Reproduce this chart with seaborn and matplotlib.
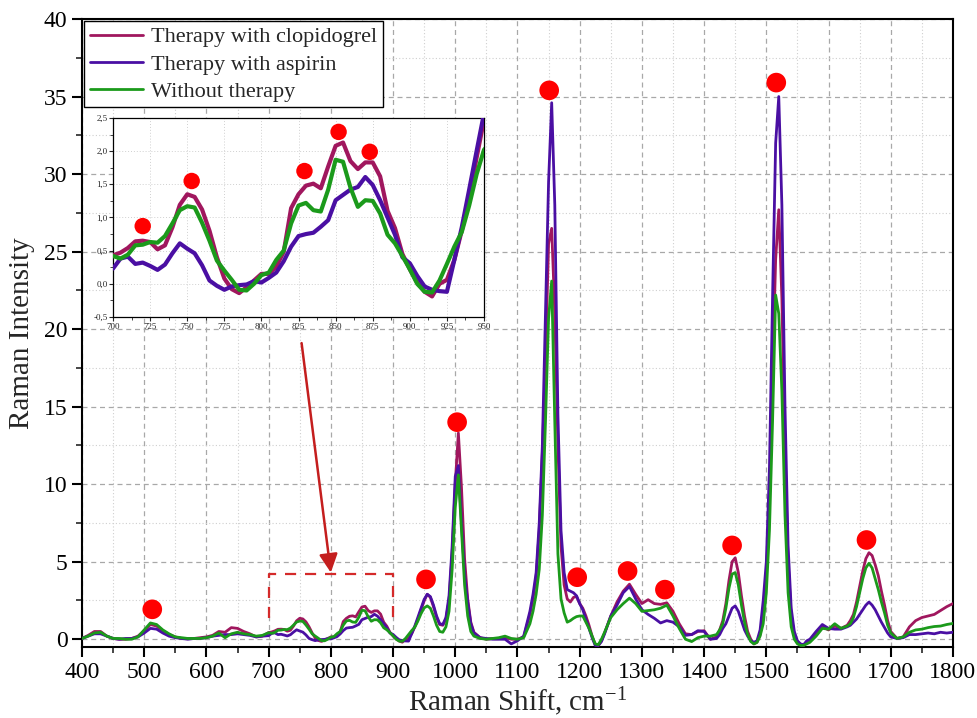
import numpy as np
import pandas as pd
import matplotlib
matplotlib.use("Agg")
from matplotlib import pyplot as plt
from matplotlib.ticker import MultipleLocator, FuncFormatter
import seaborn as sns

# sampling grid of the spectra (cm-1)
raman_shift = (list(range(400, 700, 10)) + list(range(700, 1035, 5)) +
               list(range(1040, 1125, 10)) + list(range(1125, 1245, 5)) +
               list(range(1250, 1425, 10)) + list(range(1425, 1570, 5)) +
               list(range(1570, 1640, 10)) + list(range(1635, 1705, 5)) +
               list(range(1710, 1810, 10)))

clopidogrel = [
    # 400-690
    0.05, 0.25, 0.5, 0.5, 0.2, 0.05, 0.0, 0.0, 0.05, 0.2, 0.55, 0.95, 0.85, 0.55, 0.3,
    0.15, 0.05, 0.05, 0.05, 0.1, 0.15, 0.25, 0.5, 0.45, 0.75, 0.7, 0.5, 0.35, 0.15, 0.2,
    # 700-1030
    0.43, 0.47, 0.54, 0.64, 0.65, 0.63, 0.52, 0.58, 0.85, 1.19, 1.35, 1.31, 1.12, 0.80,
    0.40, 0.08, -0.08, -0.14, -0.05, 0.05, 0.15, 0.15, 0.26, 0.48, 1.14, 1.35, 1.48, 1.51,
    1.44, 1.77, 2.08, 2.13, 1.85, 1.73, 1.83, 1.83, 1.62, 1.10, 0.84, 0.45, 0.22, 0.02,
    -0.12, -0.19, 0.00, 0.06, 0.36, 0.80, 1.28, 1.90, 2.47, 2.9, 2.7, 2.1, 1.4, 0.95, 0.9,
    1.3, 2.5, 5.5, 10.0, 13.3, 9.8, 5.2, 2.6, 1.1, 0.45,
    # 1040-1120
    0.1, 0.0, 0.05, 0.05, 0.1, 0.0, 0.0, 0.15, 1.6,
    # 1125-1240
    2.6, 4.0, 7.0, 12.0, 18.0, 25.5, 26.5, 21.0, 12.5, 6.0, 3.5, 2.6, 2.4, 2.7, 2.75, 2.3,
    2.0, 1.5, 0.9, 0.2, -0.35, -0.4, -0.1, 0.4,
    # 1250-1420
    1.5, 2.4, 3.1, 3.55, 2.9, 2.3, 2.55, 2.3, 2.25, 2.35, 1.8, 1.0, 0.35, 0.3, 0.5, 0.55,
    0.0, 0.15,
    # 1425-1565
    0.6, 1.2, 2.3, 3.8, 5.0, 5.25, 4.3, 2.8, 1.5, 0.5, 0.0, -0.3, -0.2, 0.3, 1.5, 4.0, 9.0,
    17.0, 24.5, 27.7, 22.0, 12.0, 5.0, 1.5, 0.3, -0.2, -0.35, -0.4, -0.2,
    # 1570-1630
    -0.1, 0.3, 0.8, 0.6, 0.85, 0.7, 0.9,
    # 1635-1700
    1.2, 1.6, 2.4, 3.4, 4.4, 5.2, 5.58, 5.4, 4.8, 4.1, 3.1, 2.2, 1.2, 0.5,
    # 1710-1800
    0.05, 0.15, 0.8, 1.2, 1.4, 1.5, 1.6, 1.85, 2.1, 2.3,
]

aspirin = [
    # 400-690
    0.05, 0.2, 0.35, 0.35, 0.2, 0.05, 0.0, 0.05, 0.05, 0.15, 0.4, 0.7, 0.65, 0.4, 0.2,
    0.1, 0.05, 0.0, 0.05, 0.05, 0.1, 0.2, 0.25, 0.3, 0.3, 0.35, 0.3, 0.25, 0.15, 0.2,
    # 700-1030
    0.23, 0.38, 0.41, 0.30, 0.32, 0.27, 0.21, 0.29, 0.46, 0.61, 0.53, 0.46, 0.28, 0.05,
    -0.03, -0.09, -0.04, -0.02, -0.01, 0.04, 0.02, 0.09, 0.17, 0.34, 0.56, 0.72, 0.75, 0.77,
    0.86, 0.96, 1.26, 1.34, 1.42, 1.46, 1.61, 1.49, 1.26, 1.00, 0.74, 0.40, 0.31, 0.12,
    -0.04, -0.09, -0.11, -0.12, 0.36, 0.85, 1.42, 2.00, 2.57, 2.9, 2.75, 2.2, 1.5, 1.0, 0.95,
    1.4, 2.8, 6.0, 10.5, 11.2, 7.5, 4.2, 2.4, 1.0, 0.4,
    # 1040-1120
    0.1, 0.05, 0.0, 0.0, 0.0, -0.3, -0.1, 0.2, 1.8,
    # 1125-1240
    2.9, 4.3, 7.5, 12.5, 21.0, 29.5, 34.6, 28.0, 14.5, 7.0, 4.3, 3.2, 3.1, 3.0, 2.8, 2.3,
    1.9, 1.3, 0.7, 0.1, -0.4, -0.4, -0.15, 0.35,
    # 1250-1420
    1.5, 2.2, 3.0, 3.4, 2.6, 1.9, 1.6, 1.35, 1.05, 1.2, 1.1, 0.8, 0.25, 0.3, 0.55, 0.5,
    0.0, 0.05,
    # 1425-1565
    0.3, 0.7, 1.0, 1.5, 2.0, 2.15, 1.8, 1.2, 0.6, 0.2, -0.1, -0.2, -0.1, 0.6, 2.5, 5.0, 11.0,
    22.0, 32.0, 35.0, 28.0, 15.0, 6.0, 2.0, 0.5, -0.1, -0.3, -0.35, -0.1,
    # 1570-1630
    0.0, 0.5, 0.95, 0.7, 0.65, 0.65, 0.8,
    # 1635-1700
    0.9, 1.1, 1.3, 1.6, 1.9, 2.2, 2.4, 2.2, 1.9, 1.5, 1.1, 0.75, 0.4, 0.15,
    # 1710-1800
    0.05, 0.1, 0.3, 0.3, 0.35, 0.4, 0.35, 0.45, 0.4, 0.45,
]

without_therapy = [
    # 400-690
    0.05, 0.2, 0.4, 0.45, 0.2, 0.05, 0.05, 0.0, 0.0, 0.15, 0.6, 1.05, 0.95, 0.6, 0.35,
    0.15, 0.1, 0.05, 0.05, 0.05, 0.1, 0.2, 0.4, 0.1, 0.35, 0.45, 0.35, 0.3, 0.2, 0.25,
    # 700-1030
    0.42, 0.38, 0.44, 0.58, 0.59, 0.63, 0.62, 0.72, 0.91, 1.11, 1.17, 1.15, 0.92, 0.65,
    0.35, 0.20, 0.06, -0.09, -0.10, 0.00, 0.13, 0.17, 0.36, 0.50, 0.91, 1.18, 1.22, 1.11,
    1.09, 1.42, 1.87, 1.84, 1.45, 1.16, 1.26, 1.25, 1.06, 0.74, 0.61, 0.42, 0.22, 0.00,
    -0.12, -0.13, 0.05, 0.30, 0.56, 0.78, 1.18, 1.65, 2.02, 2.15, 2.0, 1.5, 0.9, 0.5, 0.45,
    0.8, 1.8, 4.5, 8.5, 10.6, 7.0, 3.5, 1.5, 0.5, 0.2,
    # 1040-1120
    0.05, 0.0, 0.05, 0.1, 0.2, 0.05, 0.0, 0.1, 1.0,
    # 1125-1240
    1.8, 2.9, 4.5, 8.0, 14.0, 20.7, 23.1, 14.0, 5.5, 2.6, 1.7, 1.1, 1.2, 1.35, 1.46, 1.5,
    1.5, 1.1, 0.7, 0.2, -0.3, -0.35, 0.0, 0.45,
    # 1250-1420
    1.4, 1.9, 2.3, 2.65, 2.3, 1.8, 1.85, 1.9, 2.0, 2.2, 1.5, 0.7, 0.0, -0.15, 0.1, 0.2,
    0.2, 0.3,
    # 1425-1565
    0.6, 1.0, 2.0, 3.3, 4.2, 4.3, 3.5, 2.2, 1.1, 0.3, -0.15, -0.3, -0.2, 0.2, 1.0, 3.0, 7.0,
    14.0, 22.2, 21.0, 16.0, 8.0, 3.0, 0.8, 0.0, -0.3, -0.4, -0.4, -0.3,
    # 1570-1630
    -0.2, 0.2, 0.7, 0.65, 1.0, 0.7, 0.85,
    # 1635-1700
    1.0, 1.4, 2.1, 3.0, 3.9, 4.6, 4.9, 4.6, 3.9, 3.2, 2.4, 1.7, 0.9, 0.4,
    # 1710-1800
    0.05, 0.15, 0.45, 0.6, 0.65, 0.75, 0.82, 0.85, 0.95, 1.02,
]

series_names = ["Therapy with clopidogrel", "Therapy with aspirin", "Without therapy"]
series_colors = ["#a0175e", "#4a0fa3", "#1b9a1b"]

# red markers over the labelled bands
peak_x = [513, 953, 1003, 1151, 1196, 1277, 1337, 1445, 1516, 1661]
peak_y = [1.93, 3.86, 14.0, 35.4, 4.0, 4.4, 3.2, 6.05, 35.9, 6.4]
inset_peak_x = [720, 753, 829, 852, 873]
inset_peak_y = [0.87, 1.55, 1.70, 2.29, 1.99]

assert len(raman_shift) == len(clopidogrel) == len(aspirin) == len(without_therapy)

spectra = pd.DataFrame({"shift": raman_shift,
                        series_names[0]: clopidogrel,
                        series_names[1]: aspirin,
                        series_names[2]: without_therapy})

sns.set_style("ticks")
plt.rcParams["font.family"] = ["Liberation Serif", "DejaVu Serif"]
plt.rcParams["mathtext.fontset"] = "custom"
plt.rcParams["mathtext.rm"] = "Liberation Serif"
plt.rcParams["mathtext.it"] = "Liberation Serif:italic"

fig = plt.figure(figsize=(9.77, 7.18), dpi=100)
ax = fig.add_axes([0.0839, 0.0989, 0.8915, 0.8746])

# draw order: clopidogrel, green, aspirin on top
draw_order = [0, 2, 1]
for i in draw_order:
    sns.lineplot(data=spectra, x="shift", y=series_names[i], color=series_colors[i],
                 linewidth=2.0, label=series_names[i], ax=ax, zorder=3 + i)

ax.scatter(peak_x, peak_y, s=200, color="#ff0000", edgecolor="none", zorder=10)

# bracket around the zoomed band and arrow to the inset
ax.plot([700, 700, 900, 900], [1.4, 4.2, 4.2, 1.4], ls=(0, (5, 4)), color="#d42a2a",
        lw=1.6, zorder=6)
ax.annotate("", xy=(800, 4.3), xytext=(753, 19.1),
            arrowprops=dict(arrowstyle="-|>", color="#c41e1e", lw=1.8,
                            mutation_scale=28, shrinkA=0, shrinkB=0), zorder=7)

ax.set_xlim(400, 1800)
ax.set_ylim(-0.5, 40)
ax.xaxis.set_major_locator(MultipleLocator(100))
ax.xaxis.set_minor_locator(MultipleLocator(50))
ax.yaxis.set_major_locator(MultipleLocator(5))
ax.yaxis.set_minor_locator(MultipleLocator(2.5))
ax.set_axisbelow(True)
ax.grid(which="major", ls=(0, (4, 3)), color="#a8a8a8", lw=0.9)
ax.grid(which="minor", ls=(0, (1, 2)), color="#cfcfcf", lw=0.8)
ax.tick_params(which="major", direction="out", length=7, width=1.5, labelsize=17,
               colors="black")
ax.tick_params(which="minor", direction="out", length=4, width=1.2)
for side in ["left", "bottom", "right", "top"]:
    ax.spines[side].set_visible(True)
    ax.spines[side].set_linewidth(1.5)
    ax.spines[side].set_color("black")
ax.set_xlabel(r"Raman Shift, cm$^{-1}$", fontsize=21, labelpad=2)
ax.set_ylabel("Raman Intensity", fontsize=21, labelpad=6)

handles, labels = ax.get_legend_handles_labels()
by_label = dict(zip(labels, handles))
ax.legend([by_label[n] for n in series_names], series_names, loc="upper left",
          fontsize=16, frameon=True, fancybox=False, edgecolor="black", framealpha=1,
          borderaxespad=0.1, handlelength=2.4, handletextpad=0.35, labelspacing=0.3,
          borderpad=0.25)
ax.get_legend().get_frame().set_linewidth(1.0)

# zoomed inset 700-950 cm-1
ins = fig.add_axes([0.1157, 0.5585, 0.3797, 0.2772])
for i in draw_order:
    sns.lineplot(data=spectra, x="shift", y=series_names[i], color=series_colors[i],
                 linewidth=3.0, ax=ins, legend=False, zorder=3 + i)
ins.scatter(inset_peak_x, inset_peak_y, s=140, color="#ff0000", edgecolor="none", zorder=10)
ins.set_xlim(700, 950)
ins.set_ylim(-0.5, 2.5)
ins.xaxis.set_major_locator(MultipleLocator(25))
ins.xaxis.set_minor_locator(MultipleLocator(12.5))
ins.yaxis.set_major_locator(MultipleLocator(0.5))
ins.yaxis.set_minor_locator(MultipleLocator(0.25))
ins.yaxis.set_major_formatter(FuncFormatter(lambda v, p: f"{v:.1f}".replace(".", ",")))
ins.set_axisbelow(True)
ins.grid(which="major", ls=(0, (1, 2)), color="#d0d0d0", lw=0.7)
ins.tick_params(which="major", direction="out", length=3, width=0.8, labelsize=6.5, pad=1)
ins.tick_params(which="minor", direction="out", length=2, width=0.6)
for side in ["left", "bottom", "right", "top"]:
    ins.spines[side].set_visible(True)
    ins.spines[side].set_linewidth(0.9)
    ins.spines[side].set_color("black")
ins.set_xlabel("")
ins.set_ylabel("")

fig.savefig("out.png", dpi=100)
